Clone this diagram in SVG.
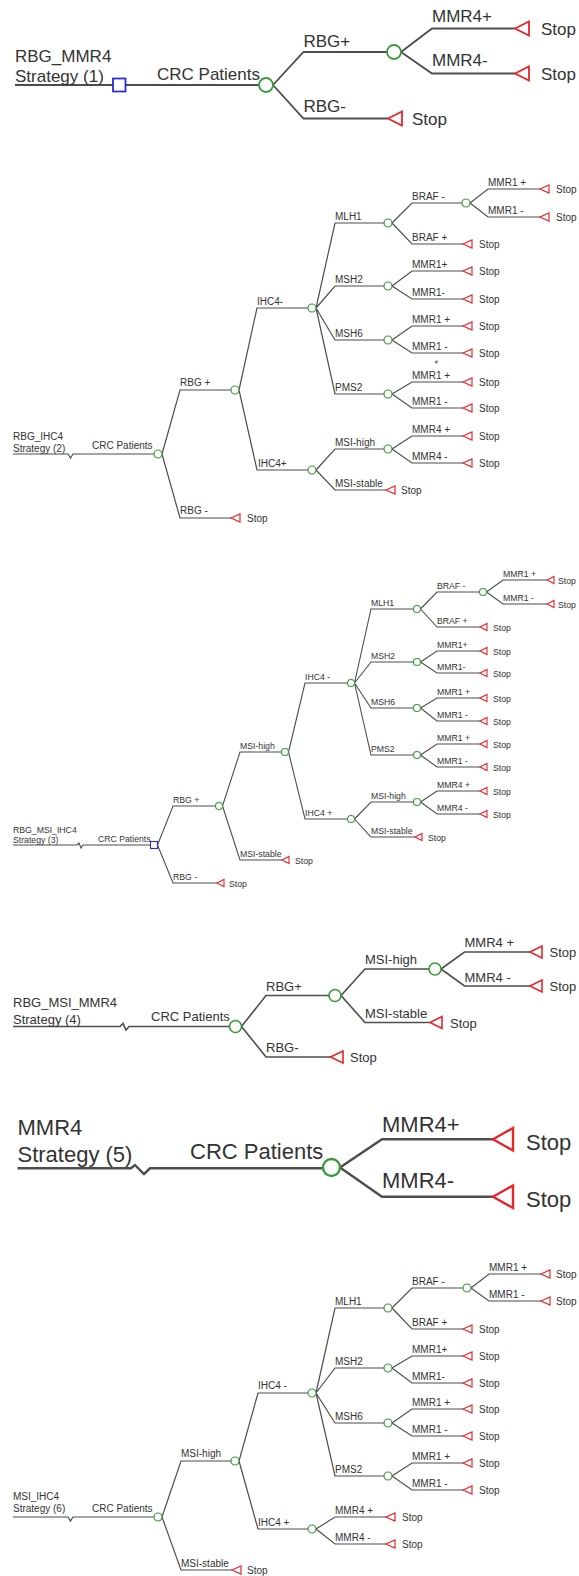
<svg xmlns="http://www.w3.org/2000/svg" width="579" height="1576" viewBox="0 0 579 1576">
<style>
text{font-family:"Liberation Sans",Arial,sans-serif;fill:#333}
.ln{fill:none;stroke:#4d4d4d;stroke-linejoin:miter}
.ch{fill:#fff;stroke:#3a9a3a}
.tm{fill:#fff;stroke:#e8262a}
.dc{fill:#fff;stroke:#2b2bd9}
.t1 text{font-size:17px}.t1 .ln,.t1 .ch,.t1 .tm,.t1 .dc{stroke-width:1.8}
.t2 text{font-size:10px}.t2 .ln,.t2 .ch,.t2 .tm,.t2 .dc{stroke-width:1.2}
.t3 text{font-size:8.7px}.t3 .ln,.t3 .ch,.t3 .tm,.t3 .dc{stroke-width:1.1}
.t4 text{font-size:13px}.t4 .ln,.t4 .ch,.t4 .tm,.t4 .dc{stroke-width:1.6}
.t5 text{font-size:22px}.t5 .ln,.t5 .ch,.t5 .tm,.t5 .dc{stroke-width:2.4}
.t6 text{font-size:10px}.t6 .ln,.t6 .ch,.t6 .tm,.t6 .dc{stroke-width:1.2}
</style>
<rect width="579" height="1576" fill="#fff"/>

<!-- ===== Tree 1 ===== -->
<g id="tree1" class="t1">
<g id="t1-connectors">
<path class="ln" d="M15,85 H113 M125.5,85 H259"/>
<path class="ln" d="M273,85 L303.5,52 H387 M273,85 L303.5,118.5 H388"/>
<path class="ln" d="M401,52 L432,28.5 H515 M401,52 L432,73.5 H515"/>
</g>
<g id="t1-labels">
<text x="15" y="62">RBG_MMR4</text>
<text x="15" y="82">Strategy (1)</text>
<text x="157" y="80">CRC Patients</text>
<text x="303.5" y="47">RBG+</text>
<text x="303.5" y="112">RBG-</text>
<text x="432" y="22">MMR4+</text>
<text x="432" y="66">MMR4-</text>
</g>
<g id="t1-n0"><rect class="dc" x="113" y="78.5" width="12.5" height="13"/></g>
<g id="t1-n1"><circle class="ch" cx="266" cy="85" r="7"/></g>
<g id="t1-n2"><circle class="ch" cx="394" cy="52" r="7"/></g>
<g id="t1-n3"><path class="tm" d="M388,118.5 L402,111.5 V125.5 Z"/><text x="412" y="125">Stop</text></g>
<g id="t1-n4"><path class="tm" d="M515,28.5 L529,21.5 V35.5 Z"/><text x="541" y="35">Stop</text></g>
<g id="t1-n5"><path class="tm" d="M515,73.5 L529,66.5 V80.5 Z"/><text x="541" y="80">Stop</text></g>
</g>

<!-- ===== Tree 2 ===== -->
<g id="tree2" class="t2">
<g id="t2-connectors">
<path class="ln" d="M13,454 H68 L70.5,458 L73,454 H154"/>
<path class="ln" d="M162,454 L180,390 H231 M162,454 L180,518 H231"/>
<path class="ln" d="M239,390 L257,308 H308 M239,390 L257,470 H308"/>
<path class="ln" d="M316,308 L335,223 H384 M316,308 L335,286 H384 M316,308 L335,340 H384 M316,308 L335,394 H384"/>
<path class="ln" d="M392,223 L412,203 H462 M392,223 L412,244 H463"/>
<path class="ln" d="M470,203 L488,189 H540 M470,203 L488,217 H540"/>
<path class="ln" d="M392,286 L412,271 H463 M392,286 L412,299 H463"/>
<path class="ln" d="M392,340 L412,326 H463 M392,340 L412,353 H463"/>
<path class="ln" d="M392,394 L412,382 H463 M392,394 L412,408 H463"/>
<path class="ln" d="M316,470 L335,449 H384 M316,470 L335,490 H386"/>
<path class="ln" d="M392,449 L412,436 H463 M392,449 L412,463 H463"/>
</g>
<g id="t2-labels">
<text x="13" y="440">RBG_IHC4</text>
<text x="13" y="451.5">Strategy (2)</text>
<text x="92" y="449">CRC Patients</text>
<text x="180" y="386">RBG +</text>
<text x="180" y="514">RBG -</text>
<text x="257" y="304.5">IHC4-</text>
<text x="258" y="466.5">IHC4+</text>
<text x="335" y="219.5">MLH1</text>
<text x="335" y="282.5">MSH2</text>
<text x="335" y="336.5">MSH6</text>
<text x="335" y="390.5">PMS2</text>
<text x="412" y="199.5">BRAF -</text>
<text x="412" y="240.5">BRAF +</text>
<text x="488" y="185.5">MMR1 +</text>
<text x="488" y="213.5">MMR1 -</text>
<text x="412" y="267.5">MMR1+</text>
<text x="412" y="295.5">MMR1-</text>
<text x="412" y="322.5">MMR1 +</text>
<text x="412" y="349.5">MMR1 -</text>
<text x="435" y="364" style="font-size:5px">#</text>
<text x="412" y="378.5">MMR1 +</text>
<text x="412" y="404.5">MMR1 -</text>
<text x="335" y="445.5">MSI-high</text>
<text x="335" y="486.5">MSI-stable</text>
<text x="412" y="432.5">MMR4 +</text>
<text x="412" y="459.5">MMR4 -</text>
</g>
<g id="t2-n0"><circle class="ch" cx="158" cy="454" r="4"/></g>
<g id="t2-n1"><circle class="ch" cx="235" cy="390" r="4"/></g>
<g id="t2-n2"><path class="tm" d="M231,518 L240,514 V522 Z"/><text x="247" y="522">Stop</text></g>
<g id="t2-n3"><circle class="ch" cx="312" cy="308" r="4"/></g>
<g id="t2-n4"><circle class="ch" cx="312" cy="470" r="4"/></g>
<g id="t2-n5"><circle class="ch" cx="388" cy="223" r="4"/></g>
<g id="t2-n6"><circle class="ch" cx="388" cy="286" r="4"/></g>
<g id="t2-n7"><circle class="ch" cx="388" cy="340" r="4"/></g>
<g id="t2-n8"><circle class="ch" cx="388" cy="394" r="4"/></g>
<g id="t2-n9"><circle class="ch" cx="466" cy="203" r="4"/></g>
<g id="t2-n10"><path class="tm" d="M463,244 L472,240 V248 Z"/><text x="479" y="248">Stop</text></g>
<g id="t2-n11"><path class="tm" d="M540,189 L549,185 V193 Z"/><text x="556" y="193">Stop</text></g>
<g id="t2-n12"><path class="tm" d="M540,217 L549,213 V221 Z"/><text x="556" y="221">Stop</text></g>
<g id="t2-n13"><path class="tm" d="M463,271 L472,267 V275 Z"/><text x="479" y="275">Stop</text></g>
<g id="t2-n14"><path class="tm" d="M463,299 L472,295 V303 Z"/><text x="479" y="303">Stop</text></g>
<g id="t2-n15"><path class="tm" d="M463,326 L472,322 V330 Z"/><text x="479" y="330">Stop</text></g>
<g id="t2-n16"><path class="tm" d="M463,353 L472,349 V357 Z"/><text x="479" y="357">Stop</text></g>
<g id="t2-n17"><path class="tm" d="M463,382 L472,378 V386 Z"/><text x="479" y="386">Stop</text></g>
<g id="t2-n18"><path class="tm" d="M463,408 L472,404 V412 Z"/><text x="479" y="412">Stop</text></g>
<g id="t2-n19"><circle class="ch" cx="388" cy="449" r="4"/></g>
<g id="t2-n20"><path class="tm" d="M386,490 L395,486 V494 Z"/><text x="401" y="494">Stop</text></g>
<g id="t2-n21"><path class="tm" d="M463,436 L472,432 V440 Z"/><text x="479" y="440">Stop</text></g>
<g id="t2-n22"><path class="tm" d="M463,463 L472,459 V467 Z"/><text x="479" y="467">Stop</text></g>
</g>

<!-- ===== Tree 3 ===== -->
<g id="tree3" class="t3">
<g id="t3-connectors">
<path class="ln" d="M13,845 H77 L79,843 L81,848 L83,845 H150.5"/>
<path class="ln" d="M157.5,845 L173,806 H215.5 M157.5,845 L173,883 H217"/>
<path class="ln" d="M222.5,806 L240,752 H281.5 M222.5,806 L240,860 H282"/>
<path class="ln" d="M288.5,752 L305,683 H347.5 M288.5,752 L305,819 H347.5"/>
<path class="ln" d="M354.5,683 L371,609 H413.5 M354.5,683 L371,662 H413.5 M354.5,683 L371,708 H413.5 M354.5,683 L371,755 H413.5"/>
<path class="ln" d="M420.5,609 L437,592 H479.5 M420.5,609 L437,627 H480"/>
<path class="ln" d="M486.5,592 L503,580 H547 M486.5,592 L503,604 H547"/>
<path class="ln" d="M420.5,662 L437,651 H480 M420.5,662 L437,673 H480"/>
<path class="ln" d="M420.5,708 L437,698 H480 M420.5,708 L437,721 H480"/>
<path class="ln" d="M420.5,755 L437,744 H480 M420.5,755 L437,767 H480"/>
<path class="ln" d="M354.5,819 L371,802 H413.5 M354.5,819 L371,837 H415"/>
<path class="ln" d="M420.5,802 L437,791 H480 M420.5,802 L437,814 H480"/>
</g>
<g id="t3-labels">
<text x="13" y="832.5">RBG_MSI_IHC4</text>
<text x="13" y="842.5">Strategy (3)</text>
<text x="98" y="841.5">CRC Patients</text>
<text x="173" y="802.5">RBG +</text>
<text x="173" y="879.5">RBG -</text>
<text x="240" y="748.5">MSI-high</text>
<text x="240" y="856.5">MSI-stable</text>
<text x="305" y="679.5">IHC4 -</text>
<text x="305" y="815.5">IHC4 +</text>
<text x="371" y="605.5">MLH1</text>
<text x="371" y="658.5">MSH2</text>
<text x="371" y="704.5">MSH6</text>
<text x="371" y="751.5">PMS2</text>
<text x="437" y="588.5">BRAF -</text>
<text x="437" y="623.5">BRAF +</text>
<text x="503" y="576.5">MMR1 +</text>
<text x="503" y="600.5">MMR1 -</text>
<text x="437" y="647.5">MMR1+</text>
<text x="437" y="669.5">MMR1-</text>
<text x="437" y="694.5">MMR1 +</text>
<text x="437" y="717.5">MMR1 -</text>
<text x="437" y="740.5">MMR1 +</text>
<text x="437" y="763.5">MMR1 -</text>
<text x="371" y="798.5">MSI-high</text>
<text x="371" y="833.5">MSI-stable</text>
<text x="437" y="787.5">MMR4 +</text>
<text x="437" y="810.5">MMR4 -</text>
</g>
<g id="t3-n0"><rect class="dc" x="150.5" y="841.5" width="7" height="7"/></g>
<g id="t3-n1"><circle class="ch" cx="219" cy="806" r="3.5"/></g>
<g id="t3-n2"><path class="tm" d="M217,883 L224,879.5 V886.5 Z"/><text x="229" y="886.5">Stop</text></g>
<g id="t3-n3"><circle class="ch" cx="285" cy="752" r="3.5"/></g>
<g id="t3-n4"><path class="tm" d="M282,860 L289,856.5 V863.5 Z"/><text x="295" y="863.5">Stop</text></g>
<g id="t3-n5"><circle class="ch" cx="351" cy="683" r="3.5"/></g>
<g id="t3-n6"><circle class="ch" cx="351" cy="819" r="3.5"/></g>
<g id="t3-n7"><circle class="ch" cx="417" cy="609" r="3.5"/></g>
<g id="t3-n8"><circle class="ch" cx="417" cy="662" r="3.5"/></g>
<g id="t3-n9"><circle class="ch" cx="417" cy="708" r="3.5"/></g>
<g id="t3-n10"><circle class="ch" cx="417" cy="755" r="3.5"/></g>
<g id="t3-n11"><circle class="ch" cx="483" cy="592" r="3.5"/></g>
<g id="t3-n12"><path class="tm" d="M480,627 L487,623.5 V630.5 Z"/><text x="493" y="630.5">Stop</text></g>
<g id="t3-n13"><path class="tm" d="M547,580 L554,576.5 V583.5 Z"/><text x="558" y="583.5">Stop</text></g>
<g id="t3-n14"><path class="tm" d="M547,604 L554,600.5 V607.5 Z"/><text x="558" y="607.5">Stop</text></g>
<g id="t3-n15"><path class="tm" d="M480,651 L487,647.5 V654.5 Z"/><text x="493" y="654.5">Stop</text></g>
<g id="t3-n16"><path class="tm" d="M480,673 L487,669.5 V676.5 Z"/><text x="493" y="676.5">Stop</text></g>
<g id="t3-n17"><path class="tm" d="M480,698 L487,694.5 V701.5 Z"/><text x="493" y="701.5">Stop</text></g>
<g id="t3-n18"><path class="tm" d="M480,721 L487,717.5 V724.5 Z"/><text x="493" y="724.5">Stop</text></g>
<g id="t3-n19"><path class="tm" d="M480,744 L487,740.5 V747.5 Z"/><text x="493" y="747.5">Stop</text></g>
<g id="t3-n20"><path class="tm" d="M480,767 L487,763.5 V770.5 Z"/><text x="493" y="770.5">Stop</text></g>
<g id="t3-n21"><circle class="ch" cx="417" cy="802" r="3.5"/></g>
<g id="t3-n22"><path class="tm" d="M415,837 L422,833.5 V840.5 Z"/><text x="428" y="840.5">Stop</text></g>
<g id="t3-n23"><path class="tm" d="M480,791 L487,787.5 V794.5 Z"/><text x="493" y="794.5">Stop</text></g>
<g id="t3-n24"><path class="tm" d="M480,814 L487,810.5 V817.5 Z"/><text x="493" y="817.5">Stop</text></g>
</g>

<!-- ===== Tree 4 ===== -->
<g id="tree4" class="t4">
<g id="t4-connectors">
<path class="ln" d="M13,1026.5 H120 L123,1023.5 L126,1030 L129,1026.5 H229.5"/>
<path class="ln" d="M241.5,1026.5 L266,995.5 H329 M241.5,1026.5 L266,1057 H330.5"/>
<path class="ln" d="M341,995.5 L365,969 H429 M341,995.5 L365,1022.5 H430"/>
<path class="ln" d="M441,969 L464.5,952 H530 M441,969 L464.5,986 H530"/>
</g>
<g id="t4-labels">
<text x="13" y="1007">RBG_MSI_MMR4</text>
<text x="13" y="1024">Strategy (4)</text>
<text x="151" y="1021">CRC Patients</text>
<text x="266" y="991">RBG+</text>
<text x="266" y="1052">RBG-</text>
<text x="365" y="964">MSI-high</text>
<text x="365" y="1017.5">MSI-stable</text>
<text x="464.5" y="947">MMR4 +</text>
<text x="464.5" y="981.5">MMR4 -</text>
</g>
<g id="t4-n0"><circle class="ch" cx="235.5" cy="1026.5" r="6"/></g>
<g id="t4-n1"><circle class="ch" cx="335" cy="995.5" r="6"/></g>
<g id="t4-n2"><path class="tm" d="M330.5,1057 L343,1051 V1063 Z"/><text x="350" y="1062">Stop</text></g>
<g id="t4-n3"><circle class="ch" cx="435" cy="969" r="6"/></g>
<g id="t4-n4"><path class="tm" d="M430,1022.5 L442,1016.5 V1028.5 Z"/><text x="450" y="1027.5">Stop</text></g>
<g id="t4-n5"><path class="tm" d="M530,952 L542,946 V958 Z"/><text x="549.5" y="957">Stop</text></g>
<g id="t4-n6"><path class="tm" d="M530,986 L542,980 V992 Z"/><text x="549.5" y="991">Stop</text></g>
</g>

<!-- ===== Tree 5 ===== -->
<g id="tree5" class="t5">
<g id="t5-connectors">
<path class="ln" d="M17.5,1168.3 H131 L135,1165 L144,1174 L150,1168.3 H323"/>
<path class="ln" d="M340,1167.5 L382,1139.3 H493 M340,1167.5 L382,1196.7 H493"/>
</g>
<g id="t5-labels">
<text x="17.5" y="1135">MMR4</text>
<text x="17.5" y="1162">Strategy (5)</text>
<text x="190" y="1159">CRC Patients</text>
<text x="382" y="1131.5">MMR4+</text>
<text x="382" y="1188">MMR4-</text>
</g>
<g id="t5-n0"><circle class="ch" cx="331.5" cy="1167.5" r="8.5"/></g>
<g id="t5-n1"><path class="tm" d="M493,1139.3 L513,1128 V1150.5 Z"/><text x="526" y="1150">Stop</text></g>
<g id="t5-n2"><path class="tm" d="M493,1196.7 L513,1185.5 V1208 Z"/><text x="526" y="1206.5">Stop</text></g>
</g>

<!-- ===== Tree 6 ===== -->
<g id="tree6" class="t6">
<g id="t6-connectors">
<path class="ln" d="M13,1517 H68 L70.5,1521 L73,1517 H154"/>
<path class="ln" d="M162,1517 L181,1461 H231 M162,1517 L181,1570 H232"/>
<path class="ln" d="M239,1461 L258,1393 H308 M239,1461 L258,1529 H308"/>
<path class="ln" d="M316,1393 L335,1308 H384 M316,1393 L335,1368 H384 M316,1393 L335,1423 H384 M316,1393 L335,1476 H384"/>
<path class="ln" d="M392,1308 L412,1288 H463 M392,1308 L412,1329 H463"/>
<path class="ln" d="M471,1288 L489,1274 H541 M471,1288 L489,1301 H541"/>
<path class="ln" d="M392,1368 L412,1356 H463 M392,1368 L412,1383 H463"/>
<path class="ln" d="M392,1423 L412,1409 H463 M392,1423 L412,1436 H463"/>
<path class="ln" d="M392,1476 L412,1463 H463 M392,1476 L412,1490 H463"/>
<path class="ln" d="M316,1529 L335,1517 H386 M316,1529 L335,1544 H386"/>
</g>
<g id="t6-labels">
<text x="13" y="1500">MSI_IHC4</text>
<text x="13" y="1512">Strategy (6)</text>
<text x="92" y="1512">CRC Patients</text>
<text x="181" y="1457">MSI-high</text>
<text x="181" y="1566.5">MSI-stable</text>
<text x="258" y="1389">IHC4 -</text>
<text x="258" y="1525.5">IHC4 +</text>
<text x="335" y="1304.5">MLH1</text>
<text x="335" y="1364.5">MSH2</text>
<text x="335" y="1419.5">MSH6</text>
<text x="335" y="1472.5">PMS2</text>
<text x="412" y="1284.5">BRAF -</text>
<text x="412" y="1325.5">BRAF +</text>
<text x="489" y="1270.5">MMR1 +</text>
<text x="489" y="1297.5">MMR1 -</text>
<text x="412" y="1352.5">MMR1+</text>
<text x="412" y="1379.5">MMR1-</text>
<text x="412" y="1405.5">MMR1 +</text>
<text x="412" y="1432.5">MMR1 -</text>
<text x="412" y="1459.5">MMR1 +</text>
<text x="412" y="1486.5">MMR1 -</text>
<text x="335" y="1513.5">MMR4 +</text>
<text x="335" y="1540.5">MMR4 -</text>
</g>
<g id="t6-n0"><circle class="ch" cx="158" cy="1517" r="4"/></g>
<g id="t6-n1"><circle class="ch" cx="235" cy="1461" r="4"/></g>
<g id="t6-n2"><path class="tm" d="M232,1570 L241,1566 V1574 Z"/><text x="247" y="1574">Stop</text></g>
<g id="t6-n3"><circle class="ch" cx="312" cy="1393" r="4"/></g>
<g id="t6-n4"><circle class="ch" cx="312" cy="1529" r="4"/></g>
<g id="t6-n5"><circle class="ch" cx="388" cy="1308" r="4"/></g>
<g id="t6-n6"><circle class="ch" cx="388" cy="1368" r="4"/></g>
<g id="t6-n7"><circle class="ch" cx="388" cy="1423" r="4"/></g>
<g id="t6-n8"><circle class="ch" cx="388" cy="1476" r="4"/></g>
<g id="t6-n9"><circle class="ch" cx="467" cy="1288" r="4"/></g>
<g id="t6-n10"><path class="tm" d="M463,1329 L472,1325 V1333 Z"/><text x="479" y="1333">Stop</text></g>
<g id="t6-n11"><path class="tm" d="M541,1274 L550,1270 V1278 Z"/><text x="556" y="1278">Stop</text></g>
<g id="t6-n12"><path class="tm" d="M541,1301 L550,1297 V1305 Z"/><text x="556" y="1305">Stop</text></g>
<g id="t6-n13"><path class="tm" d="M463,1356 L472,1352 V1360 Z"/><text x="479" y="1360">Stop</text></g>
<g id="t6-n14"><path class="tm" d="M463,1383 L472,1379 V1387 Z"/><text x="479" y="1387">Stop</text></g>
<g id="t6-n15"><path class="tm" d="M463,1409 L472,1405 V1413 Z"/><text x="479" y="1413">Stop</text></g>
<g id="t6-n16"><path class="tm" d="M463,1436 L472,1432 V1440 Z"/><text x="479" y="1440">Stop</text></g>
<g id="t6-n17"><path class="tm" d="M463,1463 L472,1459 V1467 Z"/><text x="479" y="1467">Stop</text></g>
<g id="t6-n18"><path class="tm" d="M463,1490 L472,1486 V1494 Z"/><text x="479" y="1494">Stop</text></g>
<g id="t6-n19"><path class="tm" d="M386,1517 L395,1513 V1521 Z"/><text x="402" y="1521">Stop</text></g>
<g id="t6-n20"><path class="tm" d="M386,1544 L395,1540 V1548 Z"/><text x="402" y="1548">Stop</text></g>
</g>
</svg>
